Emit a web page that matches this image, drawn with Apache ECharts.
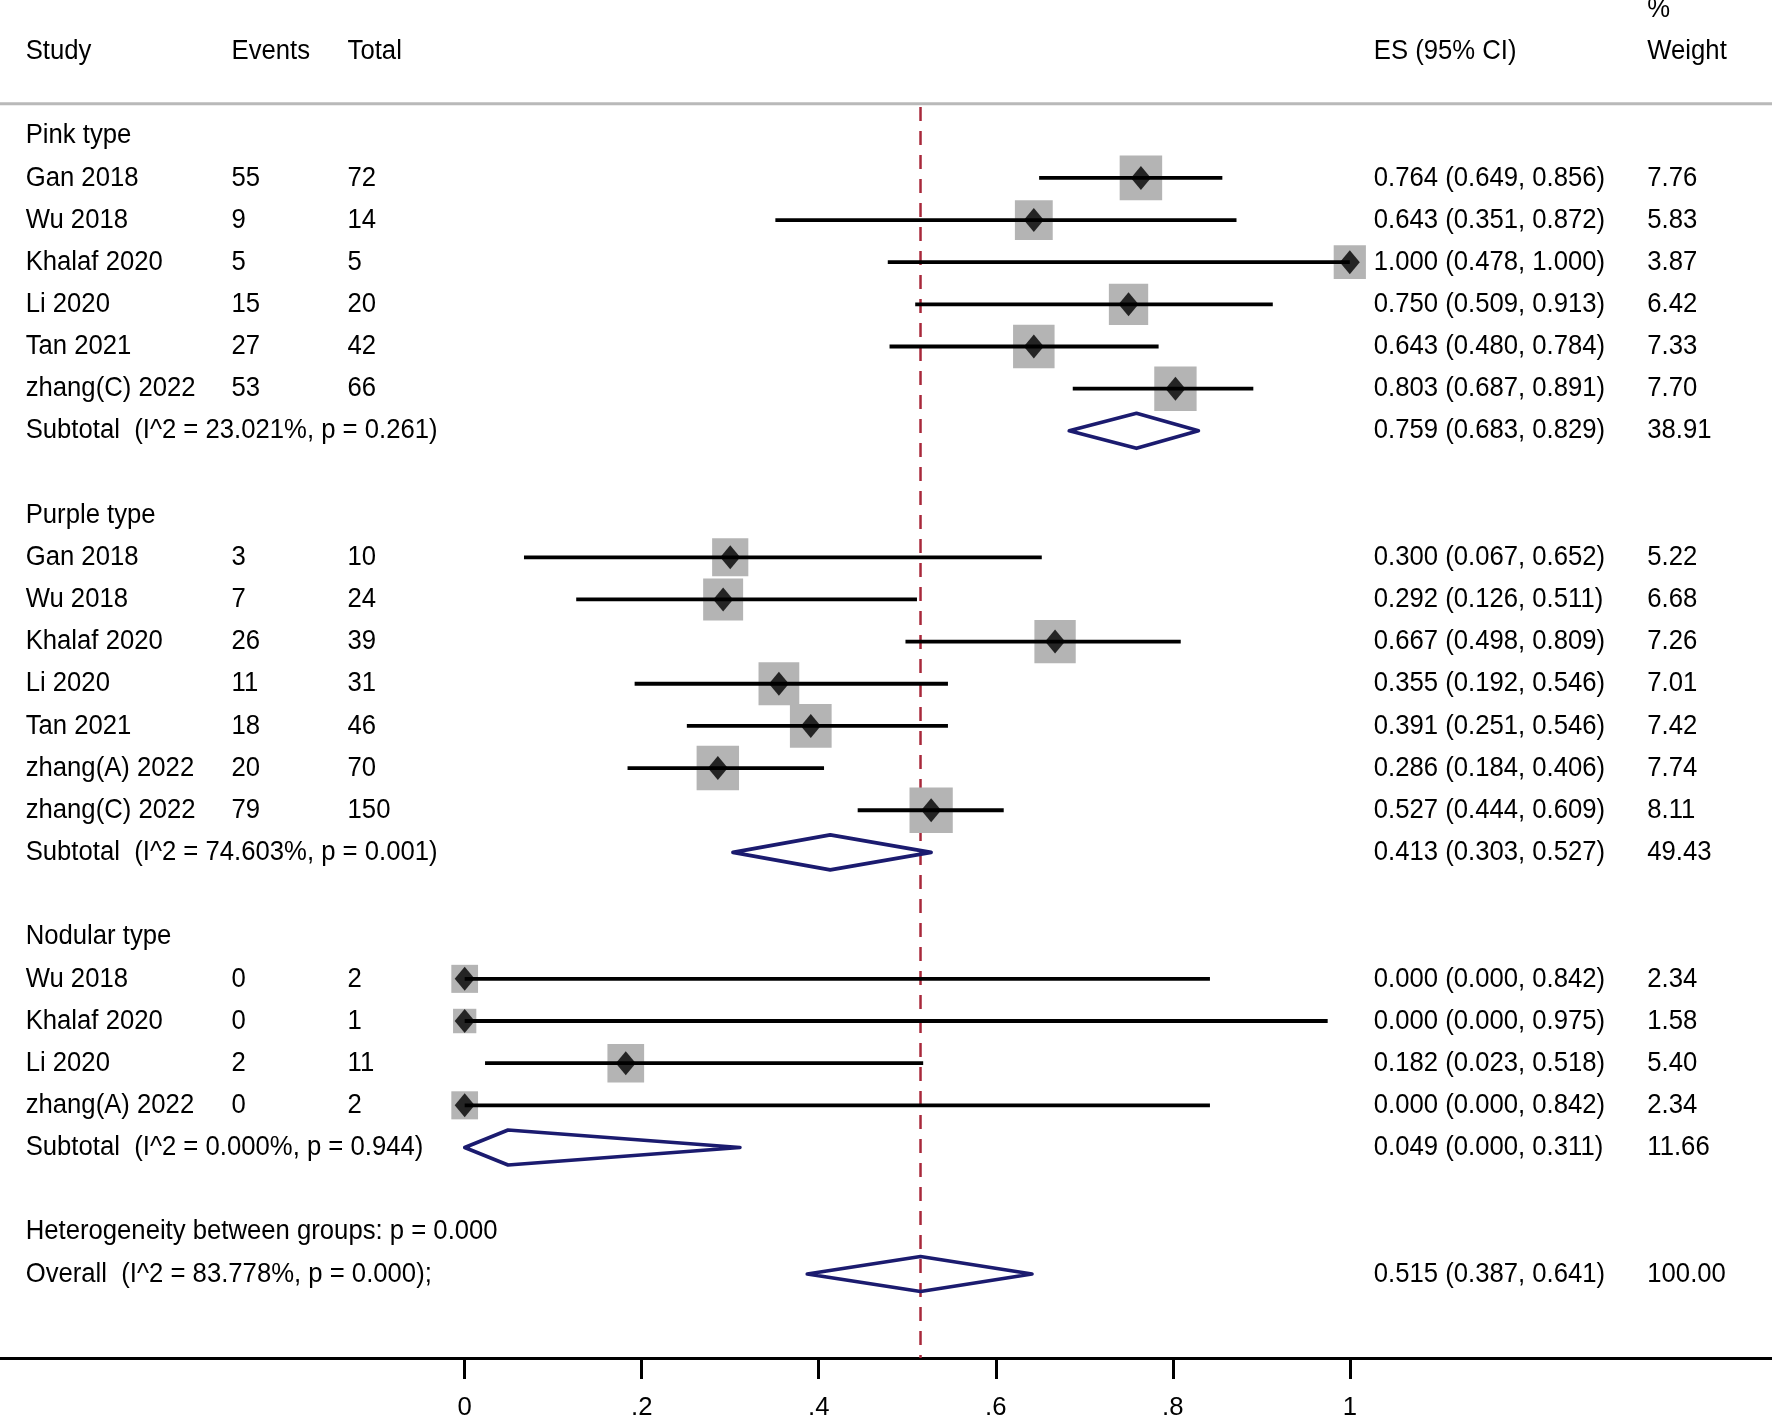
<!DOCTYPE html>
<html><head><meta charset="utf-8">
<script src="https://cdn.jsdelivr.net/npm/echarts@6/dist/echarts.min.js"></script>
<style>html,body{margin:0;padding:0;background:#fff}#c{width:1772px;height:1421px}</style>
</head><body><div id="c"></div>
<script>
// ---------------- data ----------------
const headerLabels = ['Study', 'Events', 'Total', 'ES (95% CI)', '%', 'Weight'];
const groupNames = ['Pink type', 'Purple type', 'Nodular type'];

const pinkStudies = ['Gan 2018', 'Wu 2018', 'Khalaf 2020', 'Li 2020', 'Tan 2021', 'zhang(C) 2022'];
const pinkEvents = [55, 9, 5, 15, 27, 53];
const pinkTotal = [72, 14, 5, 20, 42, 66];
const pinkES = [0.764, 0.643, 1.000, 0.750, 0.643, 0.803];
const pinkLo = [0.649, 0.351, 0.478, 0.509, 0.480, 0.687];
const pinkHi = [0.856, 0.872, 1.000, 0.913, 0.784, 0.891];
const pinkWeight = [7.76, 5.83, 3.87, 6.42, 7.33, 7.70];

const purpleStudies = ['Gan 2018', 'Wu 2018', 'Khalaf 2020', 'Li 2020', 'Tan 2021', 'zhang(A) 2022', 'zhang(C) 2022'];
const purpleEvents = [3, 7, 26, 11, 18, 20, 79];
const purpleTotal = [10, 24, 39, 31, 46, 70, 150];
const purpleES = [0.300, 0.292, 0.667, 0.355, 0.391, 0.286, 0.527];
const purpleLo = [0.067, 0.126, 0.498, 0.192, 0.251, 0.184, 0.444];
const purpleHi = [0.652, 0.511, 0.809, 0.546, 0.546, 0.406, 0.609];
const purpleWeight = [5.22, 6.68, 7.26, 7.01, 7.42, 7.74, 8.11];

const nodularStudies = ['Wu 2018', 'Khalaf 2020', 'Li 2020', 'zhang(A) 2022'];
const nodularEvents = [0, 0, 2, 0];
const nodularTotal = [2, 1, 11, 2];
const nodularES = [0.000, 0.000, 0.182, 0.000];
const nodularLo = [0.000, 0.000, 0.023, 0.000];
const nodularHi = [0.842, 0.975, 0.518, 0.842];
const nodularWeight = [2.34, 1.58, 5.40, 2.34];

const subtotalES = [0.759, 0.413, 0.049];
const subtotalLo = [0.683, 0.303, 0.000];
const subtotalHi = [0.829, 0.527, 0.311];
const subtotalWeight = [38.91, 49.43, 11.66];
const subtotalI2 = ['23.021', '74.603', '0.000'];
const subtotalP = ['0.261', '0.001', '0.944'];

const heterogeneityP = '0.000';
const overallES = 0.515, overallLo = 0.387, overallHi = 0.641, overallWeight = 100.00;
const overallI2 = '83.778', overallP = '0.000';

const xTickValues = [0, 0.2, 0.4, 0.6, 0.8, 1];
const xTickLabels = ['0', '.2', '.4', '.6', '.8', '1'];

// ---------------- layout ----------------
const X_MIN = -0.525, X_MAX = 1.477;
const Y_MIN = -3.220, Y_MAX = 28.994;
const COL = { study: -0.4960, events: -0.2634, total: -0.1323, es: 1.0271, weight: 1.3361 };
const FONT = '"Liberation Sans", Arial, Helvetica, sans-serif';
const FS = 25.7;
const TEXT_SCALE_Y = 1.08;
const RULE_ROW = -0.759;

const groups = [
  { studies: pinkStudies, events: pinkEvents, total: pinkTotal, es: pinkES, lo: pinkLo, hi: pinkHi, w: pinkWeight },
  { studies: purpleStudies, events: purpleEvents, total: purpleTotal, es: purpleES, lo: purpleLo, hi: purpleHi, w: purpleWeight },
  { studies: nodularStudies, events: nodularEvents, total: nodularTotal, es: nodularES, lo: nodularLo, hi: nodularHi, w: nodularWeight }
];

const texts = [];
const studyPts = [];
const pooled = [];
const ci = v => v.toFixed(3);
const esText = (e, l, h) => ci(e) + ' (' + ci(l) + ', ' + ci(h) + ')';

texts.push({ x: COL.study, row: -2, text: headerLabels[0] });
texts.push({ x: COL.events, row: -2, text: headerLabels[1] });
texts.push({ x: COL.total, row: -2, text: headerLabels[2] });
texts.push({ x: COL.es, row: -2, text: headerLabels[3] });
texts.push({ x: COL.weight, row: -3, text: headerLabels[4] });
texts.push({ x: COL.weight, row: -2, text: headerLabels[5] });

let row = 0;
groups.forEach((g, gi) => {
  texts.push({ x: COL.study, row, text: groupNames[gi] });
  row++;
  g.studies.forEach((s, i) => {
    texts.push({ x: COL.study, row, text: s });
    texts.push({ x: COL.events, row, text: String(g.events[i]) });
    texts.push({ x: COL.total, row, text: String(g.total[i]) });
    texts.push({ x: COL.es, row, text: esText(g.es[i], g.lo[i], g.hi[i]) });
    texts.push({ x: COL.weight, row, text: g.w[i].toFixed(2) });
    studyPts.push({ row, es: g.es[i], lo: g.lo[i], hi: g.hi[i], w: g.w[i] });
    row++;
  });
  texts.push({ x: COL.study, row, text: 'Subtotal  (I^2 = ' + subtotalI2[gi] + '%, p = ' + subtotalP[gi] + ')' });
  texts.push({ x: COL.es, row, text: esText(subtotalES[gi], subtotalLo[gi], subtotalHi[gi]) });
  texts.push({ x: COL.weight, row, text: subtotalWeight[gi].toFixed(2) });
  pooled.push({ row, es: subtotalES[gi], lo: subtotalLo[gi], hi: subtotalHi[gi] });
  row += 2;
});
texts.push({ x: COL.study, row, text: 'Heterogeneity between groups: p = ' + heterogeneityP });
row++;
texts.push({ x: COL.study, row, text: 'Overall  (I^2 = ' + overallI2 + '%, p = ' + overallP + ');' });
texts.push({ x: COL.es, row, text: esText(overallES, overallLo, overallHi) });
texts.push({ x: COL.weight, row, text: overallWeight.toFixed(2) });
pooled.push({ row, es: overallES, lo: overallLo, hi: overallHi });

const chart = echarts.init(document.getElementById('c'), null, { renderer: 'canvas' });
chart.setOption({
  animation: false,
  backgroundColor: '#ffffff',
  grid: { left: 0, right: 0, top: 0, bottom: 59.3 },
  xAxis: {
    type: 'value', min: X_MIN, max: X_MAX,
    splitLine: { show: false },
    axisLine: { show: true, onZero: false, lineStyle: { color: '#000', width: 3 } },
    axisTick: { show: true, customValues: xTickValues, length: 21, lineStyle: { color: '#000', width: 3 } },
    axisLabel: {
      show: true, customValues: xTickValues, margin: 37, color: '#000',
      fontSize: FS, fontFamily: FONT,
      formatter: v => { const k = xTickValues.findIndex(t => Math.abs(t - v) < 1e-9); return k >= 0 ? xTickLabels[k] : ''; }
    }
  },
  yAxis: { type: 'value', inverse: true, min: Y_MIN, max: Y_MAX, show: false },
  series: [
    { // top rule
      type: 'line', z: 1, symbol: 'none', silent: true,
      data: [[X_MIN, RULE_ROW], [X_MAX, RULE_ROW]],
      lineStyle: { color: '#b9b9b9', width: 3 }
    },
    { // overall effect reference line
      type: 'line', z: 1, symbol: 'none', silent: true,
      data: [[overallES, RULE_ROW + 0.08], [overallES, Y_MAX]],
      lineStyle: { color: '#a8283a', width: 2.5, type: [14, 10] }
    },
    { // weight boxes
      type: 'scatter', z: 2, symbol: 'rect',
      data: studyPts.map(p => [p.es, p.row, p.w]),
      symbolSize: v => { const s = 12.56 * Math.sqrt(v[2]) + 7.5; return [s, s * 1.05]; },
      itemStyle: { color: '#b4b4b4', opacity: 1 }
    },
    { // confidence intervals
      type: 'custom', z: 3,
      data: studyPts.map(p => [p.lo, p.hi, p.row]),
      encode: { x: [0, 1], y: 2 },
      renderItem: (params, api) => {
        const a = api.coord([api.value(0), api.value(2)]);
        const b = api.coord([api.value(1), api.value(2)]);
        return { type: 'line', shape: { x1: a[0], y1: a[1], x2: b[0], y2: b[1] }, style: { stroke: '#000', lineWidth: 3.8 } };
      }
    },
    { // point estimates
      type: 'scatter', z: 4, symbol: 'diamond', symbolSize: [20, 24],
      data: studyPts.map(p => [p.es, p.row]),
      itemStyle: { color: '#000' }
    },
    { // pooled diamonds
      type: 'custom', z: 4,
      data: pooled.map(p => [p.lo, p.es, p.hi, p.row]),
      encode: { x: [0, 2], y: 3 },
      renderItem: (params, api) => {
        const r = api.value(3), h = 0.415;
        const pts = [
          api.coord([api.value(0), r]), api.coord([api.value(1), r - h]),
          api.coord([api.value(2), r]), api.coord([api.value(1), r + h])
        ];
        return { type: 'polygon', shape: { points: pts }, style: { fill: 'none', stroke: '#1b1b6f', lineWidth: 3.6, lineJoin: 'round' } };
      }
    },
    { // texts
      type: 'custom', z: 5, clip: false,
      data: texts.map(t => [t.x, t.row]),
      renderItem: (params, api) => {
        const t = texts[params.dataIndex];
        const p = api.coord([t.x, t.row]);
        return {
          type: 'text', x: p[0], y: p[1], scaleY: TEXT_SCALE_Y,
          style: { text: t.text, fill: '#000', fontSize: FS, fontFamily: FONT, align: 'left', verticalAlign: 'middle' }
        };
      }
    }
  ]
});
</script></body></html>
